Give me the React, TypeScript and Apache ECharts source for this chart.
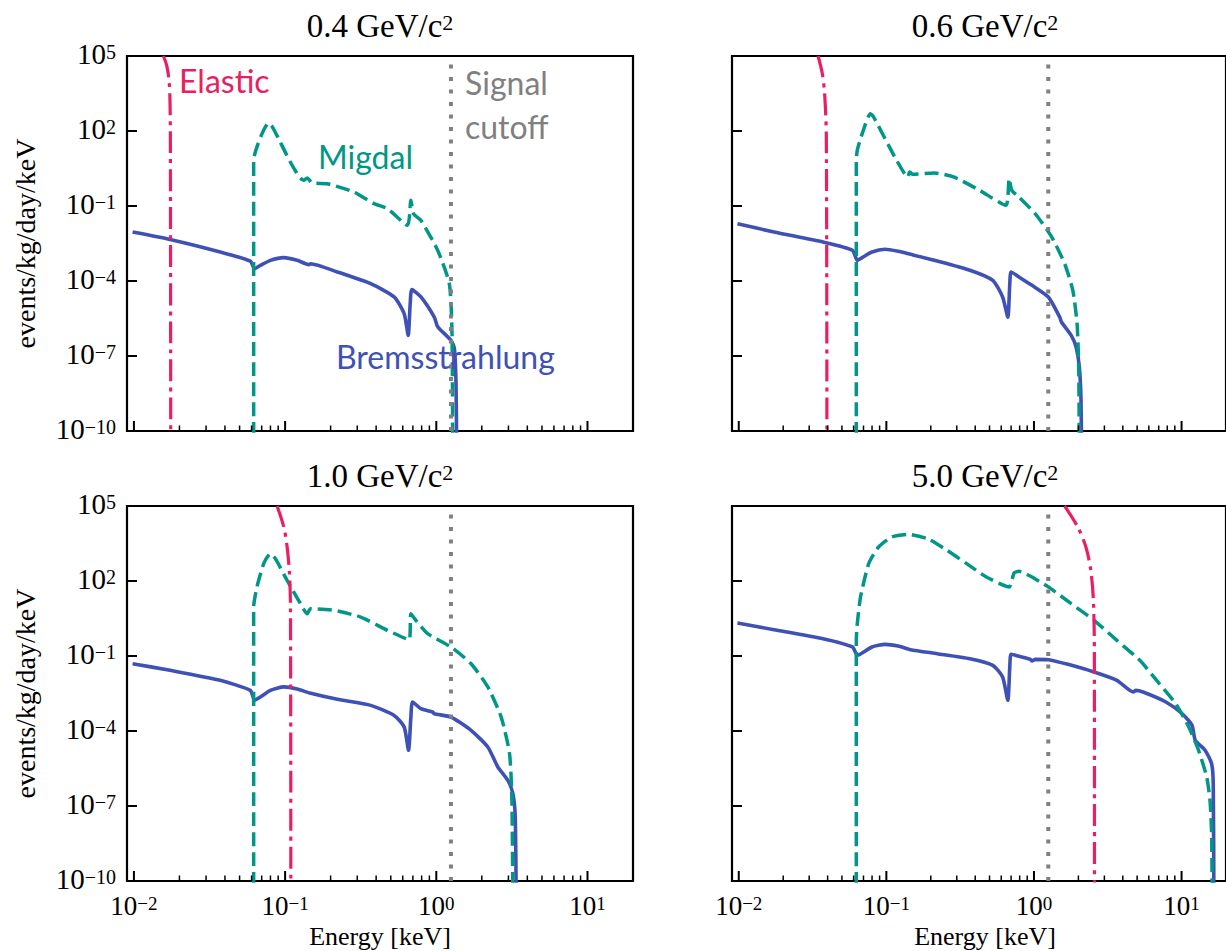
import React, { useEffect, useRef } from 'react';
import * as echarts from 'echarts';

// ---------------- data ----------------
const massLabels = ['0.4', '0.6', '1.0', '5.0'];
const xRange = [0.009, 20];
const yRange = [1e-10, 1e5];
const xMajorTicks = [0.01, 0.1, 1, 10];
const xMinorTicks = [0.02, 0.03, 0.04, 0.05, 0.06, 0.07, 0.08, 0.09, 0.2, 0.3, 0.4, 0.5, 0.6, 0.7, 0.8, 0.9, 2, 3, 4, 5, 6, 7, 8, 9];
const yMajorTicks = [1e-10, 1e-7, 1e-4, 1e-1, 1e2, 1e5];
const signalCutoff = 1.25; // keV

// 0.4 GeV/c^2
const elastic04 = [[0.01566, 1e5], [0.01647, 4.2e4], [0.01707, 1.06e4], [0.01734, 1.24e3], [0.01743, 17], [0.01752, 1e-11]];
const migdal04 = [[0.06194, 1e-11], [0.06194, 6.7], [0.07792, 209], [0.08197, 154], [0.133, 1.06], [0.14, 1.32], [0.1511, 0.83], [0.19, 0.78], [0.2856, 0.36], [0.3877, 0.124], [0.4753, 0.078], [0.6452, 0.0169], [0.6789, 0.169], [0.7073, 0.0493], [0.791, 0.0267], [1.0205, 0.0017], [1.2196, 7.8e-5], [1.2705, 7.8e-7], [1.2836, 1e-11]];
const brems04 = [[0.0098, 9.1e-3], [0.01734, 4.6e-3], [0.03722, 1.45e-3], [0.05887, 6.3e-4], [0.06288, 3.1e-4], [0.0686, 4.2e-4], [0.0799, 6.7e-4], [0.098, 8.6e-4], [0.1201, 6.7e-4], [0.1436, 4.5e-4], [0.1473, 4.9e-4], [0.2214, 2.3e-4], [0.3684, 7.8e-5], [0.5262, 2.3e-5], [0.6132, 4.9e-6], [0.6518, 6.7e-7], [0.672, 1.24e-5], [0.6894, 4.5e-5], [0.791, 2.3e-5], [0.9698, 3.6e-6], [1.01, 1.7e-6], [1.047, 1.24e-6], [1.2513, 4.2e-7], [1.3166, 2.0e-7], [1.3506, 7.8e-9], [1.3646, 1e-11]];

// 0.6 GeV/c^2
const elastic06 = [[0.03448, 1e5], [0.03684, 1.96e4], [0.03818, 3.1e3], [0.0392, 58], [0.03955, 1e-11]];
const migdal06 = [[0.06256, 1e-11], [0.06256, 6.7], [0.06353, 16.9], [0.0686, 78], [0.07792, 493], [0.08197, 363], [0.1141, 9.1], [0.14, 1.45], [0.1436, 2.3], [0.1511, 1.85], [0.2104, 2.1], [0.2856, 1.45], [0.4292, 0.42], [0.6452, 0.106], [0.6789, 1.24], [0.7073, 0.42], [0.791, 0.23], [1.0205, 0.049], [1.3166, 5.8e-3], [1.6143, 4.9e-4], [1.8336, 4.2e-5], [1.959, 1.96e-6], [2.01, 3.6e-8], [2.0306, 1e-11]];
const brems06 = [[0.0098, 1.96e-2], [0.01734, 9.1e-3], [0.03722, 3.6e-3], [0.05887, 1.7e-3], [0.06353, 6.7e-4], [0.0686, 8.6e-4], [0.0799, 1.45e-3], [0.098, 1.85e-3], [0.1201, 1.54e-3], [0.1456, 1.17e-3], [0.2214, 6.3e-4], [0.3684, 2.7e-4], [0.5262, 1.06e-4], [0.6132, 2.3e-5], [0.6652, 3.6e-6], [0.6859, 7.8e-5], [0.7, 2.3e-4], [0.791, 1.45e-4], [0.9698, 6.7e-5], [1.2513, 2.3e-5], [1.495, 3.6e-6], [1.5345, 2.3e-6], [1.7875, 6.7e-7], [1.9296, 2.3e-7], [2.0306, 3.6e-8], [2.0831, 1.7e-9], [2.1038, 1e-11]];

// 1.0 GeV/c^2
const elastic10 = [[0.0885, 1e5], [0.098, 1.45e4], [0.1031, 2.3e3], [0.1069, 196], [0.1085, 9.1], [0.1091, 1e-11]];
const migdal10 = [[0.06194, 1e-11], [0.06194, 9.1], [0.06517, 58], [0.07218, 493], [0.07993, 1240], [0.08626, 782], [0.1031, 106], [0.1264, 12.4], [0.14, 4.9], [0.1473, 7.8], [0.2104, 6.7], [0.3162, 3.6], [0.4753, 1.06], [0.6618, 0.45], [0.6789, 4.9], [0.7329, 2.67], [0.876, 0.78], [1.2513, 0.23], [1.6985, 0.049], [2.1911, 5.8e-3], [2.6866, 3.6e-4], [3.0516, 1.24e-5], [3.1623, 1.7e-7], [3.211, 1e-11]];
const brems10 = [[0.0098, 4.9e-2], [0.01734, 2.67e-2], [0.03722, 1.06e-2], [0.05887, 4.2e-3], [0.06288, 1.7e-3], [0.0686, 2.3e-3], [0.0799, 4.2e-3], [0.098, 5.8e-3], [0.1201, 4.8e-3], [0.1456, 3.3e-3], [0.2214, 1.85e-3], [0.3684, 1.06e-3], [0.5262, 4.2e-4], [0.6132, 1.45e-4], [0.6552, 1.7e-5], [0.6789, 3.6e-4], [0.6965, 1.45e-3], [0.791, 7.8e-4], [0.9456, 5.75e-4], [0.9698, 4.9e-4], [1.2513, 3.6e-4], [1.6985, 1.06e-4], [2.1911, 2.3e-5], [2.4889, 4.9e-6], [2.5531, 3.6e-6], [2.975, 1.06e-6], [3.211, 3.1e-7], [3.3277, 3.6e-8], [3.3791, 1e-11]];

// 5.0 GeV/c^2
const elastic50 = [[1.614, 1e5], [1.979, 1.45e4], [2.248, 2.3e3], [2.427, 267], [2.527, 16.9], [2.566, 0.124], [2.57, 1e-11]];
const migdal50 = [[0.06256, 1e-11], [0.06256, 0.42], [0.06353, 1.96], [0.06685, 23], [0.07596, 493], [0.0885, 2290], [0.1085, 5750], [0.14, 7360], [0.19, 4930], [0.2579, 1690], [0.3501, 493], [0.4753, 145], [0.6789, 58], [0.7329, 209], [0.791, 244], [0.9216, 169], [1.2513, 58], [1.7875, 12.4], [2.5531, 2.67], [3.6475, 0.42], [5.2119, 0.0671], [7.0707, 7.8e-3], [9.1236, 1.24e-3], [11.19, 1.45e-4], [13.03, 1.7e-5], [14.8, 1.45e-6], [15.58, 1.7e-7], [15.98, 7.8e-9], [16.14, 1e-11]];
const brems50 = [[0.0098, 2.09], [0.01734, 1.13], [0.03722, 0.493], [0.05887, 0.23], [0.06353, 0.106], [0.0686, 0.132], [0.0799, 0.23], [0.098, 0.293], [0.1201, 0.251], [0.1456, 0.179], [0.2214, 0.124], [0.3684, 0.078], [0.5262, 0.0424], [0.6132, 0.0145], [0.6652, 1.7e-3], [0.6859, 0.0363], [0.7, 0.117], [0.791, 0.097], [0.9456, 0.0736], [0.9698, 0.063], [1.0205, 0.0736], [1.2513, 0.0713], [1.6985, 0.0464], [2.5531, 0.0229], [3.6475, 0.0106], [4.7066, 3.63e-3], [4.9, 4.2e-3], [5.48, 3.63e-3], [7.8306, 1.45e-3], [10.1, 4.9e-4], [11.77, 1.7e-4], [12.39, 4.2e-5], [14.43, 1.7e-5], [15.98, 4.9e-6], [16.39, 7.8e-7], [16.56, 1e-11]];

const elasticSets = [elastic04, elastic06, elastic10, elastic50];
const migdalSets = [migdal04, migdal06, migdal10, migdal50];
const bremsSets = [brems04, brems06, brems10, brems50];

// ---------------- styling / layout ----------------
const PINK = '#E91E63';
const TEAL = '#009688';
const BLUE = '#3F51B5';
const GREY = '#808080';
const SERIF = '"Liberation Serif", "DejaVu Serif", serif';
const SANS = 'Lato, "Open Sans", sans-serif';

const GW = 506;
const GH = 375;
const PANELS = [
  { left: 127, top: 56, xLabels: false, yLabels: true },
  { left: 732, top: 56, xLabels: false, yLabels: false },
  { left: 127, top: 506, xLabels: true, yLabels: true },
  { left: 732, top: 506, xLabels: true, yLabels: false },
];

const yTickRich = {
  b: { fontFamily: SERIF, fontSize: 29, lineHeight: 25, fill: '#000' },
  s: { fontFamily: SERIF, fontSize: 20, lineHeight: 20, fill: '#000', verticalAlign: 'top' },
};
const xTickRich = {
  b: { fontFamily: SERIF, fontSize: 27, lineHeight: 24, fill: '#000' },
  s: { fontFamily: SERIF, fontSize: 19, lineHeight: 19, fill: '#000', verticalAlign: 'top' },
};
const titleRich = {
  a: { fontFamily: SERIF, fontSize: 33, lineHeight: 30, fill: '#000' },
  s: { fontFamily: SERIF, fontSize: 22, lineHeight: 21, fill: '#000', verticalAlign: 'top' },
};

function powLabel(v: number): string {
  const e = Math.round(Math.log10(v));
  const s = e < 0 ? '\u2212' + String(-e) : String(e);
  return '{b|10}{s|' + s + '}';
}

function xTickSeries(i: number, values: number[], len: number, lw: number, labels: boolean) {
  return {
    type: 'custom',
    xAxisIndex: i,
    yAxisIndex: i,
    silent: true,
    clip: false,
    z: 20,
    data: values.map((v) => [v, yRange[0]]),
    renderItem: (params: any, api: any) => {
      const p = api.coord([api.value(0), yRange[0]]);
      const children: any[] = [
        { type: 'line', shape: { x1: p[0], y1: p[1], x2: p[0], y2: p[1] - len }, style: { stroke: '#000', lineWidth: lw } },
      ];
      if (labels) {
        children.push({
          type: 'text',
          x: p[0],
          y: p[1] + 25,
          style: { text: powLabel(api.value(0)), rich: xTickRich, align: 'center', verticalAlign: 'middle', fill: '#000' },
        });
      }
      return { type: 'group', children };
    },
  };
}

function yTickSeries(i: number, labels: boolean) {
  return {
    type: 'custom',
    xAxisIndex: i,
    yAxisIndex: i,
    silent: true,
    clip: false,
    z: 20,
    data: yMajorTicks.map((v) => [xRange[0], v]),
    renderItem: (params: any, api: any) => {
      const p = api.coord([xRange[0], api.value(1)]);
      const children: any[] = [
        { type: 'line', shape: { x1: p[0], y1: p[1], x2: p[0] + 10, y2: p[1] }, style: { stroke: '#000', lineWidth: 2 } },
      ];
      if (labels) {
        children.push({
          type: 'text',
          x: p[0] - 11,
          y: p[1] - 2,
          style: { text: powLabel(api.value(1)), rich: yTickRich, align: 'right', verticalAlign: 'middle', fill: '#000' },
        });
      }
      return { type: 'group', children };
    },
  };
}

function buildOption() {
  const grid: any[] = [];
  const xAxis: any[] = [];
  const yAxis: any[] = [];
  const series: any[] = [];
  const graphic: any[] = [];

  PANELS.forEach((p, i) => {
    grid.push({ left: p.left, top: p.top, width: GW, height: GH, show: true, borderColor: '#000', borderWidth: 2.2, backgroundColor: 'transparent', containLabel: false });
    xAxis.push({
      type: 'log', logBase: 10, gridIndex: i, min: xRange[0], max: xRange[1],
      axisLine: { show: false }, axisTick: { show: false }, axisLabel: { show: false }, splitLine: { show: false },
    });
    yAxis.push({
      type: 'log', logBase: 10, gridIndex: i, min: yRange[0], max: yRange[1],
      axisLine: { show: false }, axisTick: { show: false }, axisLabel: { show: false }, splitLine: { show: false },
    });

    series.push({
      name: 'Bremsstrahlung', type: 'line', xAxisIndex: i, yAxisIndex: i, data: bremsSets[i],
      showSymbol: false, symbol: 'none', smooth: 0.2, z: 2, lineStyle: { color: BLUE, width: 3.6, join: 'round' },
    });
    series.push({
      name: 'Migdal', type: 'line', xAxisIndex: i, yAxisIndex: i, data: migdalSets[i],
      showSymbol: false, symbol: 'none', smooth: 0.2, z: 3, lineStyle: { color: TEAL, width: 3.5, type: [14, 6] },
    });
    series.push({
      name: 'Elastic', type: 'line', xAxisIndex: i, yAxisIndex: i, data: elasticSets[i],
      showSymbol: false, symbol: 'none', smooth: 0.3, z: 4, lineStyle: { color: PINK, width: 3.2, type: [22, 6, 4, 6] },
    });
    series.push({
      name: 'Signal cutoff', type: 'line', xAxisIndex: i, yAxisIndex: i,
      data: [[signalCutoff, yRange[0]], [signalCutoff, yRange[1]]],
      showSymbol: false, symbol: 'none', z: 5, lineStyle: { color: GREY, width: 4, type: [4, 8.5] },
    });

    series.push(xTickSeries(i, xMajorTicks, 10, 2, p.xLabels));
    series.push(xTickSeries(i, xMinorTicks, 5.5, 1.5, false));
    series.push(yTickSeries(i, p.yLabels));

    graphic.push({
      type: 'text', x: p.left + GW / 2, y: p.top - 30, z: 100,
      style: { text: '{a|' + massLabels[i] + ' GeV/c}{s|2}', rich: titleRich, align: 'center', verticalAlign: 'middle', fill: '#000' },
    });
    if (p.yLabels) {
      graphic.push({
        type: 'text', x: 25, y: p.top + GH / 2, rotation: Math.PI / 2, z: 100,
        style: { text: 'events/kg/day/keV', fontFamily: SERIF, fontSize: 28, lineHeight: 26, fill: '#000', align: 'center', verticalAlign: 'middle' },
      });
    }
    if (p.xLabels) {
      graphic.push({
        type: 'text', x: p.left + GW / 2, y: p.top + GH + 55, z: 100,
        style: { text: 'Energy [keV]', fontFamily: SERIF, fontSize: 26, lineHeight: 22, fill: '#000', align: 'center', verticalAlign: 'middle' },
      });
    }
  });

  const ann = (text: string, x: number, y: number, color: string) => ({
    type: 'text', x, y, z: 100,
    style: { text, fontFamily: SANS, fontSize: 32, fill: color, align: 'left', verticalAlign: 'middle' },
  });
  graphic.push(ann('Elastic', 179, 80, PINK));
  graphic.push(ann('Signal', 465, 82, GREY));
  graphic.push(ann('cutoff', 465, 126, GREY));
  graphic.push(ann('Migdal', 318, 156, TEAL));
  graphic.push(ann('Bremsstrahlung', 336, 356, BLUE));

  return { animation: false, backgroundColor: '#fff', grid, xAxis, yAxis, series, graphic };
}

export default function App() {
  const ref = useRef<HTMLDivElement | null>(null);
  useEffect(() => {
    if (!ref.current) return;
    const chart = echarts.init(ref.current, null, { renderer: 'svg', width: 1226, height: 951 });
    chart.setOption(buildOption() as any);
    return () => chart.dispose();
  }, []);
  return <div ref={ref} style={{ position: 'fixed', left: 0, top: 0, width: 1226, height: 951 }} />;
}
